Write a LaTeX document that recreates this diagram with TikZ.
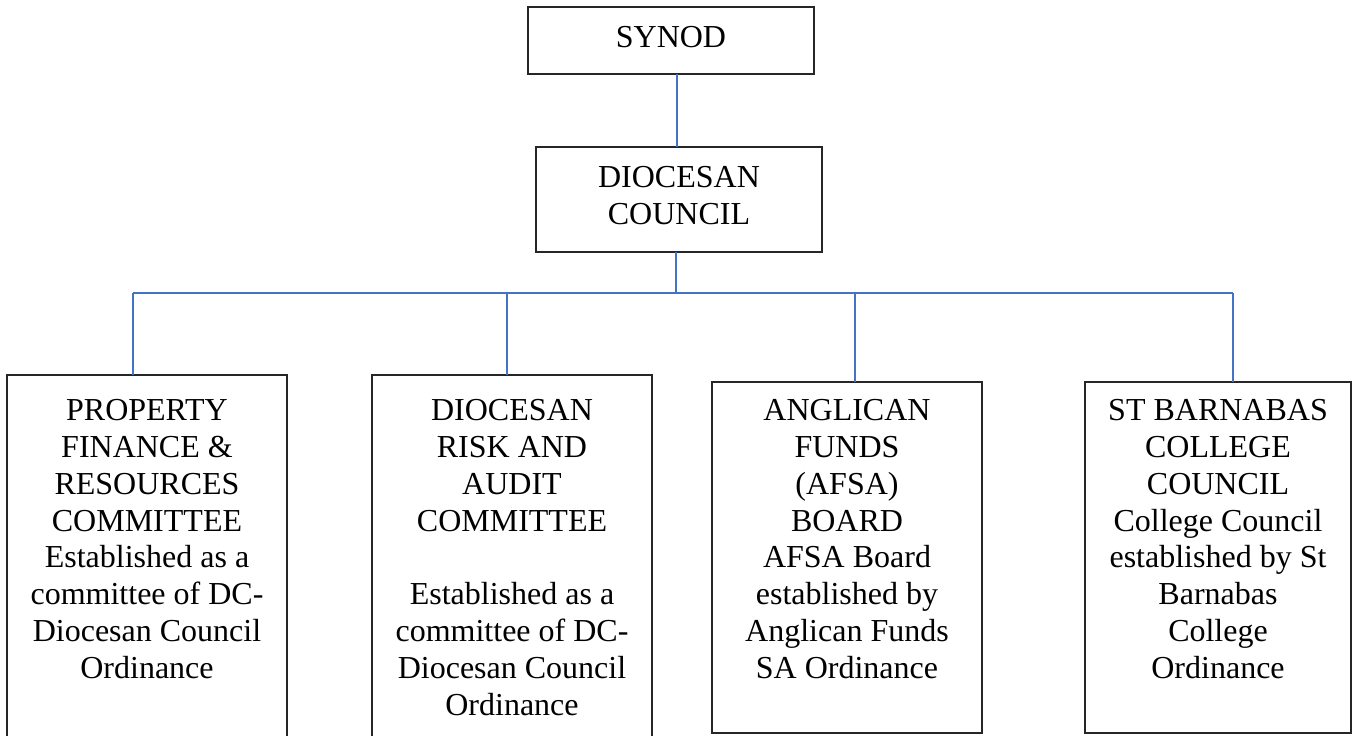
\documentclass[tikz,border=0pt]{standalone}
\usepackage{fontspec}
\setmainfont{Liberation Serif}
\definecolor{linkblue}{HTML}{4472C4}
\begin{document}
\begin{tikzpicture}[x=0.75pt,y=-0.75pt,
  box/.style={draw=black!85, line width=1pt, rectangle, inner sep=0pt, outer sep=0pt, anchor=north west},
  txt/.style={align=center, inner sep=0pt, font=\fontsize{24}{27.6}\selectfont},
  conn/.style={draw=linkblue, line width=1pt}]
\useasboundingbox (0,0) rectangle (1358,735);
% boxes
\node[box, minimum width=214.5pt, minimum height=50.25pt] (synod) at (528,7) {};
\node[box, minimum width=214.5pt, minimum height=78.75pt] (dc) at (536,147) {};
\node[box, minimum width=210pt, minimum height=277.5pt] (pfrc) at (7,375) {};
\node[box, minimum width=210pt, minimum height=277.5pt] (drac) at (372,375) {};
\node[box, minimum width=202.5pt, minimum height=263.25pt] (afsa) at (712,382) {};
\node[box, minimum width=199.5pt, minimum height=263.25pt] (sbcc) at (1085,382) {};
% texts
\node[txt, anchor=base] (synodt) at (671,47.2) {SYNOD};
\node[txt, anchor=north] (dct) at (679,161.4) {\strut DIOCESAN\\COUNCIL};
\node[txt, anchor=north] (pfrct) at (147,394.7) {\strut PROPERTY\\FINANCE \&\\RESOURCES\\COMMITTEE\\Established as a\\committee of DC-\\Diocesan Council\\Ordinance};
\node[txt, anchor=north] (dract) at (512,394.7) {\strut DIOCESAN\\RISK AND\\AUDIT\\COMMITTEE\\[27.6pt]Established as a\\committee of DC-\\Diocesan Council\\Ordinance};
\node[txt, anchor=north] (afsat) at (847,394.7) {\strut ANGLICAN\\FUNDS\\(AFSA)\\BOARD\\AFSA Board\\established by\\Anglican Funds\\SA Ordinance};
\node[txt, anchor=north] (sbcct) at (1218,394.7) {\strut ST BARNABAS\\COLLEGE\\COUNCIL\\College Council\\established by St\\Barnabas\\College\\Ordinance};
% connectors
\coordinate (busL) at (133,293);
\coordinate (busR) at (1233,293);
\coordinate (b2) at (507,293);
\coordinate (b3) at (855,293);
\draw[conn] ([xshift=4.5pt]synod.south) -- ([xshift=-1.5pt]dc.north);
\draw[conn] ([xshift=-2.25pt]dc.south) -- ([xshift=-2.25pt]dc.south |- busL);
\draw[conn] (busL) -- (busR);
\draw[conn] (busL) -- (busL |- pfrc.north);
\draw[conn] (b2) -- (b2 |- drac.north);
\draw[conn] (b3) -- (b3 |- afsa.north);
\draw[conn] (busR) -- (busR |- sbcc.north);
\end{tikzpicture}
\end{document}
